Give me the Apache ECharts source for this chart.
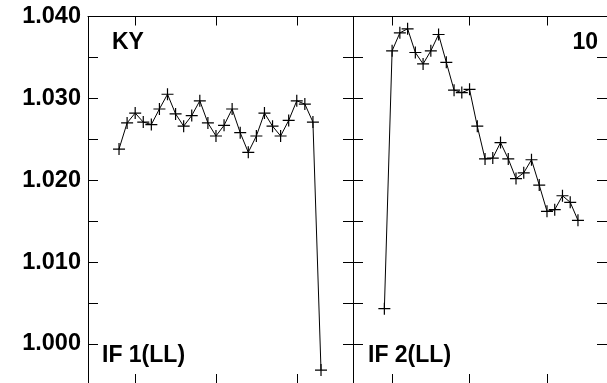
<!DOCTYPE html>
<html>
<head>
<meta charset="utf-8">
<script src="https://cdn.jsdelivr.net/npm/echarts@6/dist/echarts.min.js"></script>
<style>
  html, body { margin: 0; padding: 0; background: #fff; }
  #chart { width: 607px; height: 383px; }
</style>
</head>
<body>
<div id="chart"></div>
<script>
// amplitude per channel, two IFs
const ifOne = [1.0238, 1.0270, 1.0282, 1.0271, 1.0268, 1.0287, 1.0305, 1.0281, 1.0266, 1.0279,
               1.0297, 1.0270, 1.0254, 1.0267, 1.0287, 1.0258, 1.0234, 1.0254, 1.0282, 1.0266,
               1.0254, 1.0273, 1.0297, 1.0293, 1.0271, 0.9968];
const ifTwo = [1.0043, 1.0358, 1.0380, 1.0385, 1.0356, 1.0342, 1.0358, 1.0378, 1.0344, 1.0310,
               1.0307, 1.0311, 1.0266, 1.0226, 1.0227, 1.0246, 1.0226, 1.0202, 1.0209, 1.0225,
               1.0194, 1.0162, 1.0164, 1.0181, 1.0173, 1.0151];
const firstChanOne = 8;
const firstChanTwo = 9;

const yLabels = [1.000, 1.010, 1.020, 1.030, 1.040];
const yTicks = [1.000, 1.005, 1.010, 1.015, 1.020, 1.025, 1.030, 1.035, 1.040];
const xTicks = [10, 20, 30];

const panelLabels = ['IF 1(LL)', 'IF 2(LL)'];
const sourceName = 'KY';
const antennaName = '10';

const font = '"Liberation Sans", Arial, Helvetica, sans-serif';
const plus = 'path://M0 5.4h12v1.2H0z M5.4 0h1.2v12H5.4z';

const chart = echarts.init(document.getElementById('chart'), null, { renderer: 'canvas' });

function xAx(grid, pos, min, max) {
    return {
        type: 'value', gridIndex: grid, position: pos, min: min, max: max,
        axisLine: { show: true, onZero: false, lineStyle: { color: '#000', width: 1 } },
        axisTick: { show: true, inside: true, length: 9, customValues: xTicks, lineStyle: { color: '#000' } },
        axisLabel: { show: false },
        splitLine: { show: false }
    };
}
function yAx(grid, pos, labels) {
    return {
        type: 'value', gridIndex: grid, position: pos, min: 0.99522, max: 1.040,
        axisLine: { show: true, onZero: false, lineStyle: { color: '#000', width: 1 } },
        axisTick: { show: true, inside: true, length: 10, customValues: yTicks, lineStyle: { color: '#000' } },
        axisLabel: {
            show: labels, customValues: yLabels, margin: 7,
            color: '#000', fontFamily: font, fontWeight: 'bold', fontSize: 23.5,
            formatter: v => v.toFixed(3)
        },
        splitLine: { show: false }
    };
}

const lineSeries = (vals, start, xi, yi) => ({
    type: 'line',
    xAxisIndex: xi, yAxisIndex: yi,
    data: vals.map((v, i) => [start + i, v]),
    symbol: plus, symbolSize: 12,
    itemStyle: { color: '#000' },
    lineStyle: { color: '#000', width: 1 },
    animation: false
});

const textStyle = { fill: '#000', font: 'bold 23px ' + font };

const option = {
    animation: false,
    grid: [
        { left: 88, top: 16.5, width: 265, height: 368.5 },
        { left: 353, top: 16.5, width: 265, height: 368.5 }
    ],
    xAxis: [
        xAx(0, 'bottom', 4.16, 36.96), xAx(0, 'top', 4.16, 36.96),
        xAx(1, 'bottom', 4.95, 37.75), xAx(1, 'top', 4.95, 37.75)
    ],
    yAxis: [
        yAx(0, 'left', true), yAx(0, 'right', false),
        yAx(1, 'left', false), yAx(1, 'right', false)
    ],
    series: [
        lineSeries(ifOne, firstChanOne, 0, 0),
        lineSeries(ifTwo, firstChanTwo, 2, 2)
    ],
    graphic: [
        { type: 'text', left: 112, top: 31, style: Object.assign({ text: sourceName }, textStyle) },
        { type: 'text', right: 9, top: 31, style: Object.assign({ text: antennaName }, textStyle) },
        { type: 'text', left: 102, top: 344, style: Object.assign({ text: panelLabels[0] }, textStyle) },
        { type: 'text', left: 368, top: 344, style: Object.assign({ text: panelLabels[1] }, textStyle) }
    ]
};

chart.setOption(option);
</script>
</body>
</html>
